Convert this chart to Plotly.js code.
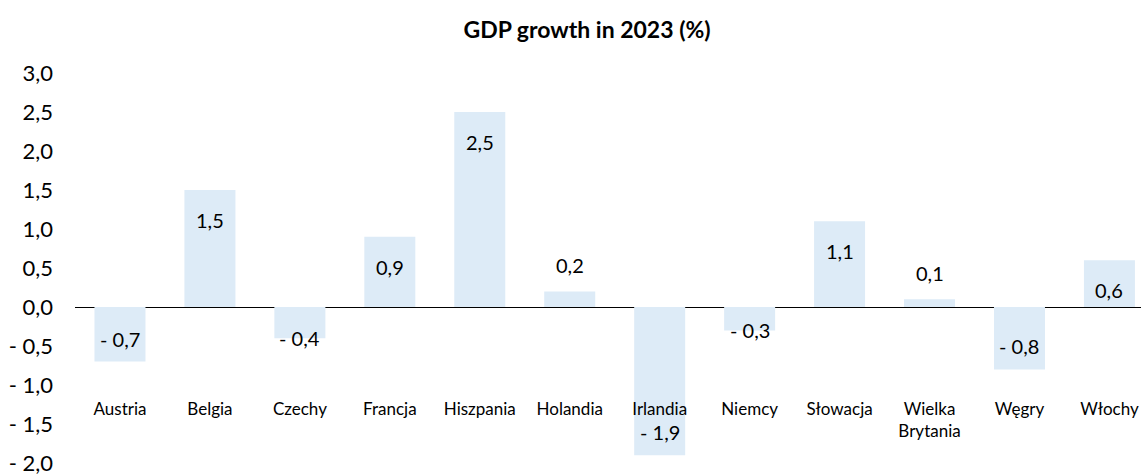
<!DOCTYPE html>
<html>
<head>
<meta charset="utf-8">
<script src="https://cdn.plot.ly/plotly-3.0.1.min.js"></script>
<style>html,body{margin:0;padding:0;background:#fff;}#chart{width:1141px;height:475px;}</style>
</head>
<body>
<div id="chart"></div>
<script>
const categories = ["Austria","Belgia","Czechy","Francja","Hiszpania","Holandia","Irlandia","Niemcy","Słowacja","Wielka<br>Brytania","Węgry","Włochy"];
const gdpGrowth = [-0.7, 1.5, -0.4, 0.9, 2.5, 0.2, -1.9, -0.3, 1.1, 0.1, -0.8, 0.6];
const yTickVals = [3, 2.5, 2, 1.5, 1, 0.5, 0, -0.5, -1, -1.5, -2];

function fmt(v){
  const s = Math.abs(v).toFixed(1).replace('.', ',');
  return v < 0 ? '- ' + s : s;
}

const FONT = 'Lato, "Open Sans", sans-serif';

const labelAnn = gdpGrowth.map((v, i) => {
  let shift;
  if (v >= 0.5) shift = -30;
  else if (v > 0) shift = 26;
  else if (v <= -0.5) shift = 23;
  else shift = 0;
  return {
    x: categories[i], y: v, xref: 'x', yref: 'y',
    text: fmt(v), showarrow: false, yshift: shift,
    yanchor: 'middle', xanchor: 'center',
    font: {family: FONT, size: 20, color: '#000'}
  };
});

const trace = {
  type: 'bar',
  x: categories,
  y: gdpGrowth,
  marker: {color: '#DDEBF7'},
  hoverinfo: 'x+y'
};

const layout = {
  width: 1141, height: 475,
  margin: {l: 75, r: 0, t: 73, b: 12},
  paper_bgcolor: '#fff', plot_bgcolor: '#fff',
  showlegend: false,
  bargap: 0.433,
  title: {
    text: '<b>GDP growth in 2023 (%)</b>',
    xref: 'container', x: 0.5145, xanchor: 'center',
    yref: 'container', y: 0.937, yanchor: 'middle',
    font: {family: FONT, size: 23, color: '#000'}
  },
  xaxis: {
    type: 'category',
    range: [-0.5, 11.351],
    anchor: 'free', position: 0.175,
    showline: false, showgrid: false, zeroline: false,
    ticks: '', ticklabelstandoff: 2,
    tickfont: {family: FONT, size: 17, color: '#000'},
    fixedrange: true
  },
  yaxis: {
    range: [-2, 3],
    tickvals: yTickVals,
    ticktext: yTickVals.map(fmt),
    showline: false, showgrid: false,
    zeroline: true, zerolinecolor: '#000', zerolinewidth: 1,
    ticks: '', ticklabelstandoff: 21,
    ticklabeloverflow: 'allow',
    tickfont: {family: FONT, size: 22, color: '#000'},
    fixedrange: true
  },
  annotations: labelAnn
};

Plotly.newPlot('chart', [trace], layout, {displayModeBar: false, staticPlot: true});
</script>
</body>
</html>
